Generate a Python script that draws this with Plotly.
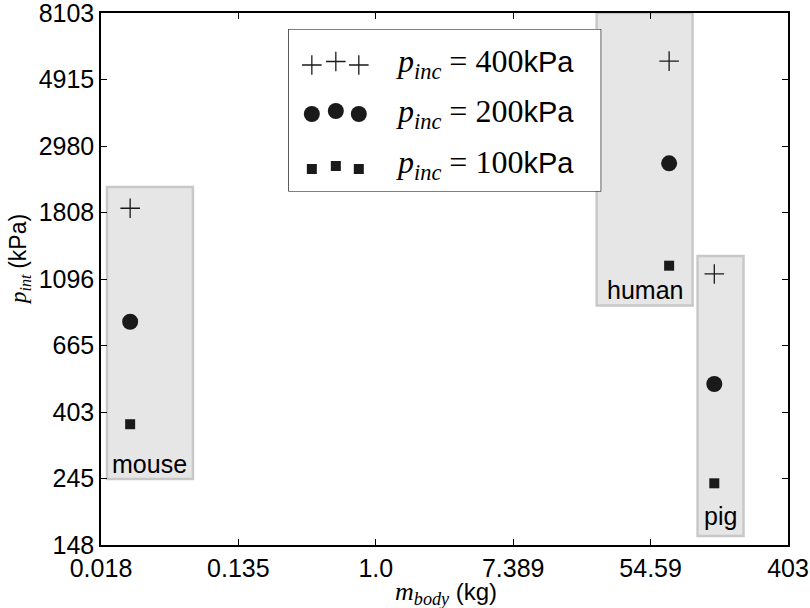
import math
import plotly.graph_objects as go

# ---------------- data ----------------
animals = ["mouse", "human", "pig"]
body_mass_kg = [0.028, 71.5, 138.0]
p_int_400 = [1867, 5645, 1139]
p_int_200 = [795, 2617, 498]
p_int_100 = [368, 1212, 236]
series_labels = ["400", "200", "100"]

x_tick_exp = [-4, -2, 0, 2, 4, 6]
x_tick_text = ["0.018", "0.135", "1.0", "7.389", "54.59", "403"]
y_tick_exp = [5, 5.5, 6, 6.5, 7, 7.5, 8, 8.5, 9]
y_tick_text = ["148", "245", "403", "665", "1096", "1808", "2980", "4915", "8103"]

# ---------------- layout constants ----------------
W, H = 810, 608
L, R, T, B = 101, 788.5, 13, 545
PW, PH = R - L, B - T
EPS = 1e-6

def px(x):
    return (x - L) / PW

def py(y):
    return (B - y) / PH

SANS = "Liberation Sans"
SERIF = "Liberation Serif"
FS = 25
INK = "#1a1a1a"

def serif(t, italic=False):
    inner = "<i>%s</i>" % t if italic else t
    return "<span style='font-family:%s'>%s</span>" % (SERIF, inner)

def sans(t, size=None):
    st = "font-family:%s" % SANS
    if size:
        st += ";font-size:%dpx" % size
    return "<span style='%s'>%s</span>" % (st, t)

styles = {
    "400": dict(symbol="cross-thin", size=14, line=dict(width=1.3, color=INK), color=INK),
    "200": dict(symbol="circle", size=16, color=INK, line=dict(width=0)),
    "100": dict(symbol="square", size=10, color=INK, line=dict(width=0)),
}
series_vals = {"400": p_int_400, "200": p_int_200, "100": p_int_100}

fig = go.Figure()

for key in series_labels:
    fig.add_trace(go.Scatter(
        x=body_mass_kg, y=series_vals[key], mode="markers",
        marker=styles[key], showlegend=False, cliponaxis=False,
        xaxis="x", yaxis="y",
    ))

# custom legend (three markers per entry, like matplotlib)
leg_left, leg_right, leg_top, leg_bot = 289, 601, 29.5, 191
leg_mx = [312, 336, 359]
leg_rows = {"400": (65, 61.5), "200": (114, 111), "100": (169, 166)}
for key in series_labels:
    side, mid = leg_rows[key]
    ys = [side, mid, side]
    fig.add_trace(go.Scatter(
        x=[(m - leg_left) / (leg_right - leg_left) for m in leg_mx],
        y=[(leg_bot - v) / (leg_bot - leg_top) for v in ys],
        mode="markers", marker=styles[key], showlegend=False,
        xaxis="x2", yaxis="y2", hoverinfo="skip",
    ))

shapes = []
annotations = []

# grey boxes around groups
boxes = {"mouse": (107, 193, 187, 479), "human": (597, 693, 13, 305.5), "pig": (698, 744, 256, 536)}
label_pos = {"mouse": (150, 464), "human": (645, 290), "pig": (721, 516)}
for a in animals:
    x0, x1, y0, y1 = boxes[a]
    shapes.append(dict(type="rect", xref="paper", yref="paper",
                       x0=px(x0), x1=px(x1), y0=py(y1), y1=py(y0),
                       fillcolor="#e6e6e6", line=dict(color="#c8c8c8", width=2.5),
                       layer="below"))
    lx, ly = label_pos[a]
    annotations.append(dict(text=a, xref="paper", yref="paper", x=px(lx), y=py(ly),
                            xanchor="center", yanchor="middle", showarrow=False,
                            font=dict(family=SANS, size=FS, color="black")))

# legend frame
shapes.append(dict(type="rect", xref="paper", yref="paper",
                   x0=px(leg_left), x1=px(leg_right), y0=py(leg_bot), y1=py(leg_top),
                   fillcolor="white", line=dict(color="black", width=1.2), layer="below"))

leg_text_y = {"400": 64, "200": 113, "100": 164}
for key in series_labels:
    txt = (serif("p", True) + "<sub>" + serif("inc", True) + "</sub>" +
           serif(" = " + key) + sans("kPa", 29))
    annotations.append(dict(text=txt, xref="paper", yref="paper", x=px(394), y=py(leg_text_y[key]),
                            xanchor="left", yanchor="middle", showarrow=False,
                            font=dict(family=SERIF, size=32, color="black")))

# axis titles
annotations.append(dict(text=serif("m", True) + "<sub>" + serif("body", True) + "</sub> " + sans("(kg)", 24),
                        xref="paper", yref="paper", x=px(446), y=py(593),
                        xanchor="center", yanchor="middle", showarrow=False,
                        font=dict(family=SERIF, size=26, color="black")))
annotations.append(dict(text=serif("p", True) + "<sub>" + serif("int", True) + "</sub> " + sans("(kPa)"),
                        xref="paper", yref="paper", x=px(19), y=py(260), textangle=-90,
                        xanchor="center", yanchor="middle", showarrow=False,
                        font=dict(family=SERIF, size=23, color="black")))

axis_common = dict(type="log", automargin=False, ticklabeloverflow="allow",
                   ticks="inside", ticklen=6, tickwidth=1, tickcolor="black",
                   showline=True, linecolor="black", linewidth=1.5, mirror="allticks",
                   showgrid=False, zeroline=False,
                   tickfont=dict(family=SANS, size=FS, color="black"))

fig.update_layout(
    width=W, height=H,
    margin=dict(l=L, r=W - R, t=T, b=H - B, autoexpand=False),
    paper_bgcolor="white", plot_bgcolor="white",
    showlegend=False,
    shapes=shapes, annotations=annotations,
    xaxis=dict(range=[x_tick_exp[0] / math.log(10) - EPS, x_tick_exp[-1] / math.log(10) + EPS],
               tickvals=[math.exp(e) for e in x_tick_exp], ticktext=x_tick_text,
               **axis_common),
    yaxis=dict(range=[y_tick_exp[0] / math.log(10) - EPS, y_tick_exp[-1] / math.log(10) + EPS],
               tickvals=[math.exp(e) for e in y_tick_exp], ticktext=y_tick_text,
               **axis_common),
    xaxis2=dict(domain=[px(leg_left), px(leg_right)], range=[0, 1], visible=False,
                anchor="y2", fixedrange=True),
    yaxis2=dict(domain=[py(leg_bot), py(leg_top)], range=[0, 1], visible=False,
                anchor="x2", fixedrange=True),
)

fig.write_html("out.html", config={"displayModeBar": False},
               post_script="document.body.style.margin='0';document.body.style.overflow='hidden';")
